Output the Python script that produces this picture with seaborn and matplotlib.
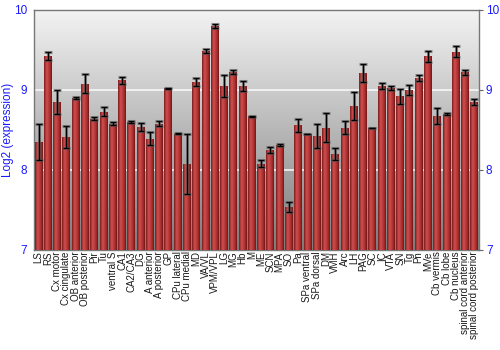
import numpy as np
import pandas as pd
import matplotlib
matplotlib.use("Agg")
import matplotlib.pyplot as plt
import seaborn as sns
from matplotlib.colors import LinearSegmentedColormap

regions = ["LS", "RS", "Cx motor", "Cx cingulate", "OB anterior", "OB posterior", "Pir", "Tu",
           "ventral S", "CA1", "CA2/CA3", "DG", "A anterior", "A posterior", "GP", "CPu lateral",
           "CPu medial", "MD", "VA/VL", "VPM/VPL", "LG", "MG", "Hb", "M", "ME", "SCN", "MPA", "SO",
           "Pa", "SPa ventral", "SPa dorsal", "DM", "VMH", "Arc", "LH", "PAG", "SC", "IC", "VTA",
           "SN", "Tg", "Pn", "MVe", "Cb vermis", "Cb lobe", "Cb nucleus", "spinal cord anterior",
           "spinal cord posterior"]
expression = [8.35, 9.43, 8.85, 8.41, 8.90, 9.08, 8.64, 8.73,
              8.58, 9.12, 8.60, 8.54, 8.39, 8.58, 9.02, 8.455,
              8.075, 9.10, 9.49, 9.80, 9.05, 9.225, 9.05, 8.67, 8.08, 8.25, 8.31, 7.54,
              8.56, 8.45, 8.425, 8.53, 8.20, 8.53, 8.80, 9.21, 8.525, 9.05, 9.025,
              8.92, 9.00, 9.15, 9.42, 8.67, 8.70, 9.48, 9.22,
              8.85]
error = [0.22, 0.05, 0.15, 0.14, 0.01, 0.12, 0.02, 0.055,
         0.02, 0.04, 0.01, 0.05, 0.08, 0.035, 0.01, 0.005,
         0.37, 0.045, 0.025, 0.03, 0.135, 0.025, 0.065, 0.01, 0.04, 0.04, 0.01, 0.06,
         0.08, 0.005, 0.155, 0.185, 0.08, 0.08, 0.18, 0.11, 0.005, 0.04, 0.025,
         0.09, 0.06, 0.04, 0.07, 0.10, 0.015, 0.065, 0.035,
         0.04]
yticks = [7, 8, 9, 10]

df = pd.DataFrame({"region": regions, "expression": expression})

sns.set_style("white")
plt.rcParams["font.family"] = ["Liberation Sans", "DejaVu Sans"]

fig = plt.figure(figsize=(5, 3.5), dpi=100)
ax = fig.add_axes([34 / 500, 100 / 350, 445 / 500, 240 / 350])

sns.barplot(data=df, x="region", y="expression", color="#b33535", width=0.86,
            errorbar=None, ax=ax, zorder=3, linewidth=0)

ax.set_ylim(7, 10)
ax.set_xlim(-0.5, len(regions) - 0.5)

# background gradient
bg = LinearSegmentedColormap.from_list("bg", ["#7c7c7c", "#f3f3f3"])
grad = np.linspace(0, 1, 256).reshape(-1, 1)
ax.imshow(grad, cmap=bg, aspect="auto", origin="lower",
          extent=[-0.5, len(regions) - 0.5, 7, 10], zorder=0)

# bar shading
barcm = LinearSegmentedColormap.from_list(
    "bar", [(0, "#7a1c1c"), (0.3, "#cc4c4c"), (0.45, "#c84646"), (0.8, "#a22a2a"), (1, "#6e1616")])
hgrad = np.linspace(0, 1, 64).reshape(1, -1)
for p in list(ax.patches):
    x0, w, h = p.get_x(), p.get_width(), p.get_height()
    im = ax.imshow(hgrad, cmap=barcm, aspect="auto", extent=[x0, x0 + w, 7, p.get_y() + h],
                   zorder=3.5)
    im.set_clip_path(p)

for yv in [8, 9]:
    ax.axhline(yv, color="white", lw=1.2, alpha=0.85, zorder=2)

xs = np.arange(len(regions))
ax.errorbar(xs, expression, yerr=error, fmt="none", ecolor="#555555", alpha=0.6,
            elinewidth=2.2, capsize=2.8, capthick=2.2, zorder=4)
ax.errorbar(xs, expression, yerr=error, fmt="none", ecolor="black",
            elinewidth=0.9, capsize=2.2, capthick=0.9, zorder=5)

ax.set_xlim(-0.5, len(regions) - 0.5)
ax.set_ylim(7, 10)
ax.set_yticks(yticks)
ax.set_xlabel("")
ax.set_ylabel("Log2 (expression)", color="#1a1aff", fontsize=8.5)
ax.yaxis.set_label_coords(-0.044, 0.5)
ax.tick_params(axis="y", which="both", left=False, right=True, labelleft=True, labelright=True,
               labelcolor="#1a1aff", labelsize=8.5, length=3, color="#666666", pad=2)
ax.tick_params(axis="x", length=0, labelsize=7, pad=1, labelcolor="#1a1a1a")
plt.setp(ax.get_xticklabels(), rotation=90)
for s in ax.spines.values():
    s.set_visible(True)
    s.set_color("#777777")
    s.set_linewidth(1)
ax.set_axisbelow(False)

fig.savefig("out.png", dpi=100)
